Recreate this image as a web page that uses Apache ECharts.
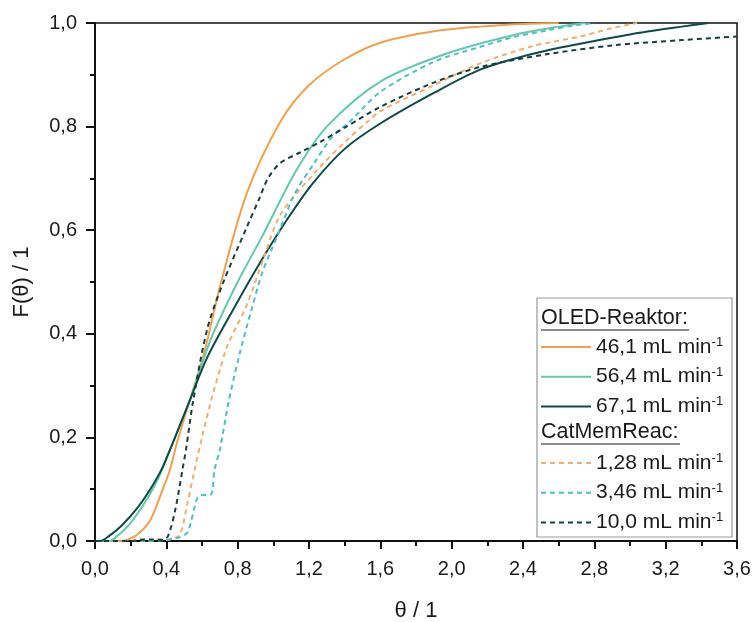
<!DOCTYPE html>
<html>
<head>
<meta charset="utf-8">
<script src="https://cdn.jsdelivr.net/npm/echarts@6/dist/echarts.min.js"></script>
<style>html,body{margin:0;padding:0;background:#fff}#c{width:753px;height:622px}</style>
</head>
<body>
<div id="c"></div>
<script>
// ---- data: [theta, F(theta)] ----
const oled461 = [[0,0],[0.15,0],[0.2,0.005],[0.25,0.016],[0.31,0.04],[0.38,0.10],[0.42,0.137],[0.46,0.19],[0.53,0.27],[0.61,0.36],[0.7,0.49],[0.85,0.67],[1.04,0.81],[1.2,0.88],[1.4,0.93],[1.6,0.962],[1.9,0.984],[2.16,0.993],[2.4,0.998],[2.6,1.0]];
const oled564 = [[0,0],[0.08,0],[0.12,0.008],[0.2,0.035],[0.29,0.08],[0.36,0.125],[0.42,0.176],[0.53,0.27],[0.65,0.39],[0.8,0.5],[0.94,0.59],[1.13,0.716],[1.3,0.80],[1.6,0.887],[1.98,0.942],[2.35,0.977],[2.6,0.993],[2.75,1.0]];
const oled671 = [[0,0],[0.03,0],[0.08,0.01],[0.15,0.03],[0.24,0.065],[0.31,0.10],[0.38,0.143],[0.53,0.27],[0.63,0.355],[0.78,0.45],[0.93,0.54],[1.08,0.622],[1.22,0.69],[1.4,0.757],[1.6,0.806],[1.9,0.865],[2.16,0.91],[2.45,0.94],[2.72,0.96],[3.0,0.978],[3.29,0.993],[3.44,1.0]];
const cmr128 = [[0,0],[0.2,0],[0.25,0.005],[0.3,0],[0.35,0.004],[0.4,0.002],[0.45,0.006],[0.48,0.015],[0.52,0.075],[0.56,0.14],[0.6,0.2],[0.65,0.27],[0.7,0.33],[0.74,0.375],[0.85,0.455],[0.95,0.55],[1.04,0.63],[1.23,0.71],[1.4,0.77],[1.53,0.81],[1.6,0.83],[1.9,0.88],[2.16,0.922],[2.45,0.955],[2.72,0.974],[2.9,0.99],[3.04,1.0]];
const cmr346 = [[0,0],[0.3,0],[0.4,0.002],[0.45,0.005],[0.48,0.008],[0.52,0.017],[0.57,0.08],[0.59,0.088],[0.65,0.09],[0.67,0.137],[0.7,0.176],[0.75,0.27],[0.81,0.36],[0.88,0.45],[0.94,0.52],[1.02,0.587],[1.12,0.67],[1.23,0.73],[1.33,0.78],[1.43,0.81],[1.6,0.867],[1.9,0.925],[2.16,0.954],[2.35,0.973],[2.54,0.986],[2.7,0.996],[2.8,1.0]];
const cmr100 = [[0,0],[0.2,0],[0.3,0.003],[0.38,0.002],[0.41,0.01],[0.45,0.06],[0.49,0.137],[0.51,0.176],[0.55,0.27],[0.63,0.41],[0.72,0.5],[0.85,0.605],[0.92,0.66],[0.97,0.70],[1.04,0.73],[1.15,0.75],[1.26,0.77],[1.41,0.80],[1.6,0.838],[1.9,0.885],[2.16,0.915],[2.54,0.94],[2.91,0.957],[3.29,0.967],[3.6,0.974]];

const seriesNames = ['46,1 mL min','56,4 mL min','67,1 mL min','1,28 mL min','3,46 mL min','10,0 mL min'];
const seriesData = [oled461, oled564, oled671, cmr128, cmr346, cmr100];
const seriesColors = ['#F2A04A','#62C9AC','#0E4B48','#F3AE6E','#4CC0C2','#173F40'];
const seriesDash = ['solid','solid','solid','dashed','dashed','dashed'];
const headers = ['OLED-Reaktor:','CatMemReac:'];
const xTicks = {min:0, max:3.6, interval:0.4};
const yTicks = {min:0, max:1.0, interval:0.2};

const FONT = '"Liberation Sans", Arial, sans-serif';
const fmt = v => v.toFixed(1).replace('.', ',');
const chart = echarts.init(document.getElementById('c'), null, {renderer:'canvas'});

const legendRich = {
  n:{fontSize:21, fontFamily:FONT, color:'#1a1a1a', lineHeight:22},
  s:{fontSize:13, fontFamily:FONT, color:'#1a1a1a', verticalAlign:'top', lineHeight:22, padding:[0,0,12,0]}
};
const legendBase = {
  orient:'vertical', left:540, padding:0, itemWidth:50, itemHeight:14, itemGap:4.7,
  formatter: name => '{n|' + name + '}{s|-1}',
  textStyle:{rich:legendRich, fontFamily:FONT},
  itemStyle:{color:'transparent', borderColor:'transparent', borderWidth:0},
  inactiveColor:'#ccc', z:10
};

chart.setOption({
  animation:false,
  backgroundColor:'#fff',
  grid:{left:95, right:16, top:23, bottom:81, show:true, borderColor:'#111', borderWidth:1.5, containLabel:false, outerBoundsMode:'none'},
  xAxis:{
    type:'value', min:xTicks.min, max:xTicks.max, interval:xTicks.interval,
    name:'θ / 1', nameLocation:'middle', nameGap:59,
    nameTextStyle:{fontSize:22, fontFamily:FONT, color:'#1a1a1a'},
    axisLine:{show:true, onZero:false, lineStyle:{color:'#111', width:2}},
    axisTick:{show:true, inside:false, length:8, lineStyle:{color:'#111', width:2}},
    minorTick:{show:true, splitNumber:2, length:5, lineStyle:{color:'#111', width:2}},
    splitLine:{show:false},
    axisLabel:{fontSize:20, fontFamily:FONT, color:'#1a1a1a', margin:18, formatter:fmt}
  },
  yAxis:{
    type:'value', min:yTicks.min, max:yTicks.max, interval:yTicks.interval,
    name:'F(θ) / 1', nameLocation:'middle', nameGap:62,
    nameTextStyle:{fontSize:22, fontFamily:FONT, color:'#1a1a1a'},
    axisLine:{show:true, onZero:false, lineStyle:{color:'#111', width:2}},
    axisTick:{show:true, inside:false, length:9, lineStyle:{color:'#111', width:2}},
    minorTick:{show:true, splitNumber:2, length:5, lineStyle:{color:'#111', width:2}},
    splitLine:{show:false},
    axisLabel:{fontSize:20, fontFamily:FONT, color:'#1a1a1a', margin:18, formatter:fmt}
  },
  legend:[
    Object.assign({}, legendBase, {top:336, data:seriesNames.slice(0,3)}),
    Object.assign({}, legendBase, {top:452, data:seriesNames.slice(3,6)})
  ],
  graphic:[
    {type:'rect', z:5, shape:{x:537, y:298, width:195, height:239}, style:{fill:'#fff', stroke:'#999', lineWidth:1.2}},
    {type:'text', z:100, x:541, y:318, style:{text:headers[0], fontSize:21.5, fontFamily:FONT, fill:'#1a1a1a', verticalAlign:'middle'}},
    {type:'line', z:100, shape:{x1:541, y1:330, x2:689, y2:330}, style:{stroke:'#1a1a1a', lineWidth:1.2}},
    {type:'text', z:100, x:541, y:432, style:{text:headers[1], fontSize:21.5, fontFamily:FONT, fill:'#1a1a1a', verticalAlign:'middle'}},
    {type:'line', z:100, shape:{x1:541, y1:444, x2:680, y2:444}, style:{stroke:'#1a1a1a', lineWidth:1.2}}
  ],
  series: seriesData.map((d,i)=>({
    name:seriesNames[i], type:'line', data:d, smooth:0.3, symbol:'none', showSymbol:false,
    clip:true,
    lineStyle:{color:seriesColors[i], width:2, type:seriesDash[i] === 'dashed' ? [5,4] : 'solid'},
    itemStyle:{color:seriesColors[i]}
  }))
});
</script>
</body>
</html>
